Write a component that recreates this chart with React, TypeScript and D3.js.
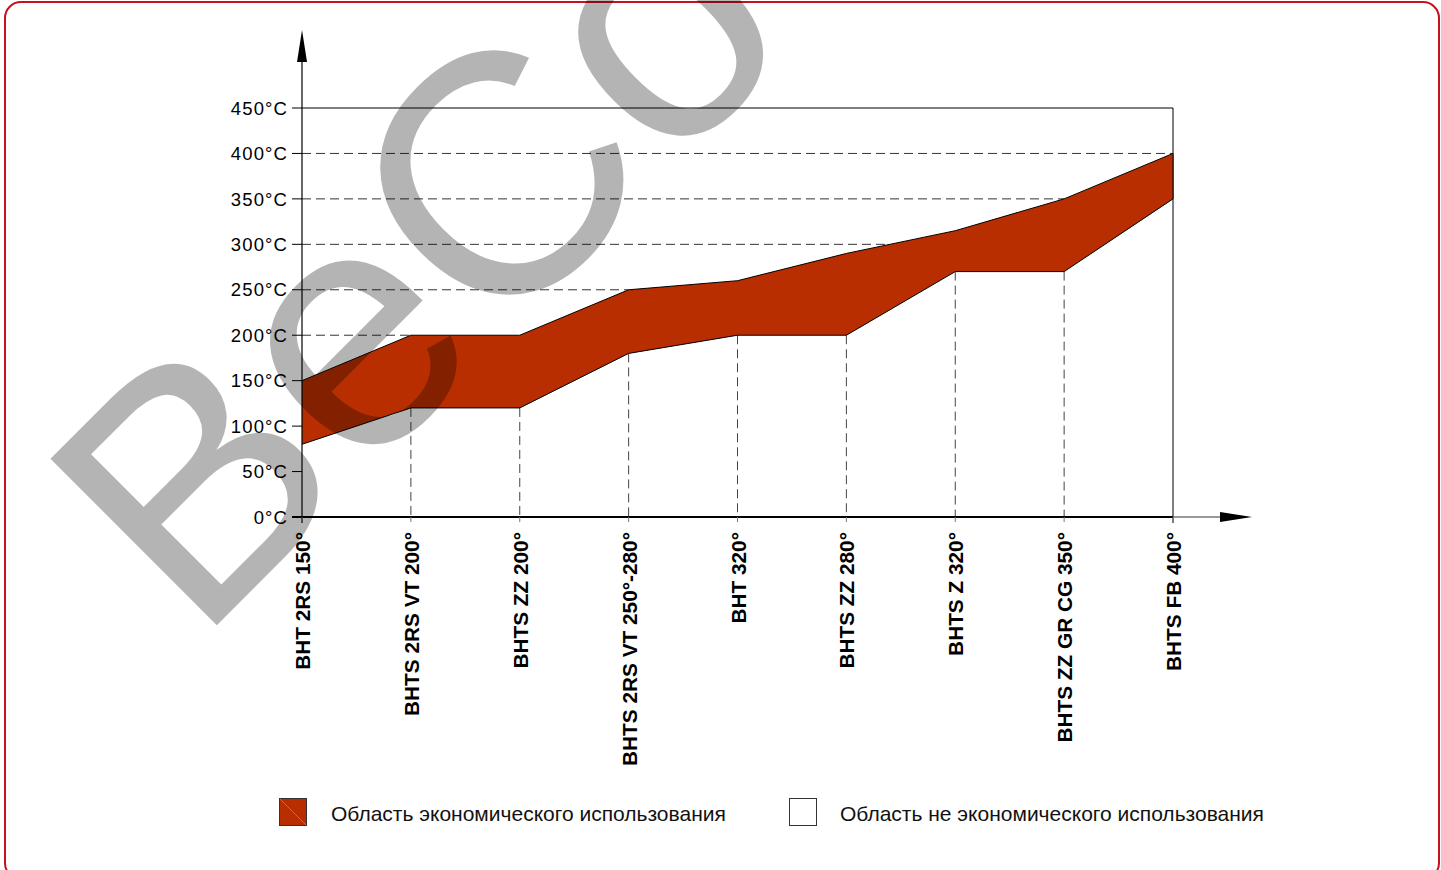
import { scaleLinear, scalePoint, area, line } from "d3"

const categories = [
    "BHT 2RS 150°",
    "BHTS 2RS VT 200°",
    "BHTS ZZ 200°",
    "BHTS 2RS VT 250°-280°",
    "BHT 320°",
    "BHTS ZZ 280°",
    "BHTS Z 320°",
    "BHTS ZZ GR CG 350°",
    "BHTS FB 400°",
]
const upperLimits = [150, 200, 200, 250, 260, 290, 315, 350, 400]
const lowerLimits = [80, 120, 120, 180, 200, 200, 270, 270, 350]
const yTicks = [0, 50, 100, 150, 200, 250, 300, 350, 400, 450]
const legendItems = ["Область экономического использования", "Область не экономического использования"]
const watermark = "BeCo"

const W = 1441
const H = 870
const left = 302
const right = 1173
const top = 108
const bottom = 517
const bandColor = "#b82e00"
const font = "'Liberation Sans', Arial, sans-serif"

const x = scalePoint().domain(categories).range([left, right])
const y = scaleLinear().domain([0, 450]).range([bottom, top])

// where the upper edge of the band first reaches a value
const crossing = (v) => {
    for (let i = 0; i < categories.length; i++) {
        if (upperLimits[i] >= v) {
            if (i === 0) return x(categories[0])
            const a = upperLimits[i - 1], b = upperLimits[i]
            const x0 = x(categories[i - 1]), x1 = x(categories[i])
            return x0 + (v - a) / (b - a) * (x1 - x0)
        }
    }
    return right
}

const App = () => {
    const pts = categories.map((c, i) => ({ c, hi: upperLimits[i], lo: lowerLimits[i] }))
    const band = area().x(d => x(d.c)).y0(d => y(d.lo)).y1(d => y(d.hi))(pts)
    const upperLine = line().x(d => x(d.c)).y(d => y(d.hi))(pts)
    const lowerLine = line().x(d => x(d.c)).y(d => y(d.lo))(pts)

    return (
        <div style={{ position: "absolute", left: 0, top: 0 }}>
            <svg width={W} height={H} style={{ display: "block", background: "#fff" }}>
                <rect x={5} y={2} width={1434} height={877} rx={16} fill="none" stroke="#c8101e" strokeWidth={2} />

                {/* dashed helper lines */}
                {yTicks.filter(v => v >= 200 && v < 450).map(v => {
                    const xe = crossing(v)
                    return xe > left + 1 ? (
                        <line key={"h" + v} x1={left} x2={xe} y1={y(v)} y2={y(v)}
                            stroke="#333" strokeWidth={1} strokeDasharray="9,5" />
                    ) : null
                })}
                {categories.slice(1, -1).map((c, i) => (
                    <line key={"v" + c} x1={x(c)} x2={x(c)} y1={y(lowerLimits[i + 1])} y2={bottom}
                        stroke="#444" strokeWidth={1} strokeDasharray="9,5" />
                ))}

                {/* frame */}
                <line x1={left} x2={right} y1={top} y2={top} stroke="#000" strokeWidth={1} />
                <line x1={right} x2={right} y1={top} y2={bottom + 6} stroke="#000" strokeWidth={1} />

                <path d={band} fill={bandColor} stroke="none" />
                <path d={upperLine} fill="none" stroke="#000" strokeWidth={1} />
                <path d={lowerLine} fill="none" stroke="#000" strokeWidth={1} />
                <line x1={right} x2={right} y1={y(upperLimits[8])} y2={y(lowerLimits[8])} stroke="#000" strokeWidth={1} />

                {/* axes */}
                <line x1={left} x2={left} y1={bottom + 6} y2={58} stroke="#000" strokeWidth={1.2} />
                <path d={`M${left},30 L${left - 5},62 L${left + 5},62 Z`} fill="#000" />
                <line x1={right} x2={1225} y1={bottom} y2={bottom} stroke="#777" strokeWidth={1.5} />
                <path d={`M1252,${bottom} L1220,${bottom - 5} L1220,${bottom + 5} Z`} fill="#000" />
                <line x1={left - 10} x2={right} y1={bottom} y2={bottom} stroke="#000" strokeWidth={2} />

                {yTicks.map(v => (
                    <g key={"t" + v}>
                        <line x1={left - 10} x2={left} y1={y(v)} y2={y(v)} stroke="#000" strokeWidth={1} />
                        <text x={288} y={y(v)} dy="0.36em" textAnchor="end" fontFamily={font} fontSize={18.5}
                            letterSpacing={1.1} fill="#000">{v}°C</text>
                    </g>
                ))}
                {categories.map(c => (
                    <g key={"c" + c}>
                        <line x1={x(c)} x2={x(c)} y1={bottom} y2={bottom + 5} stroke="#777" strokeWidth={1} />
                        <text transform={`translate(${x(c) + 8},532) rotate(-90)`} textAnchor="end"
                            fontFamily={font} fontWeight="bold" fontSize={20.8} fill="#000">{c}</text>
                    </g>
                ))}

                {/* legend */}
                <rect x={279.5} y={798.5} width={27} height={27} fill={bandColor} stroke="#333" strokeWidth={1} />
                <line x1={280} y1={799} x2={306} y2={825} stroke="#e8785a" strokeWidth={0.7} />
                <text x={331} y={820.5} fontFamily={font} fontSize={21} fill="#111">{legendItems[0]}</text>
                <rect x={789.5} y={798.5} width={27} height={27} fill="#fff" stroke="#333" strokeWidth={1} />
                <text x={840} y={820.5} fontFamily={font} fontSize={21} fill="#111">{legendItems[1]}</text>

                {/* watermark */}
                <text transform="translate(197,645) rotate(-45)" fontFamily={font} fontSize={342}
                    fill="#000" fillOpacity={0.295}>{watermark}</text>
            </svg>
        </div>
    )
}

export default App
